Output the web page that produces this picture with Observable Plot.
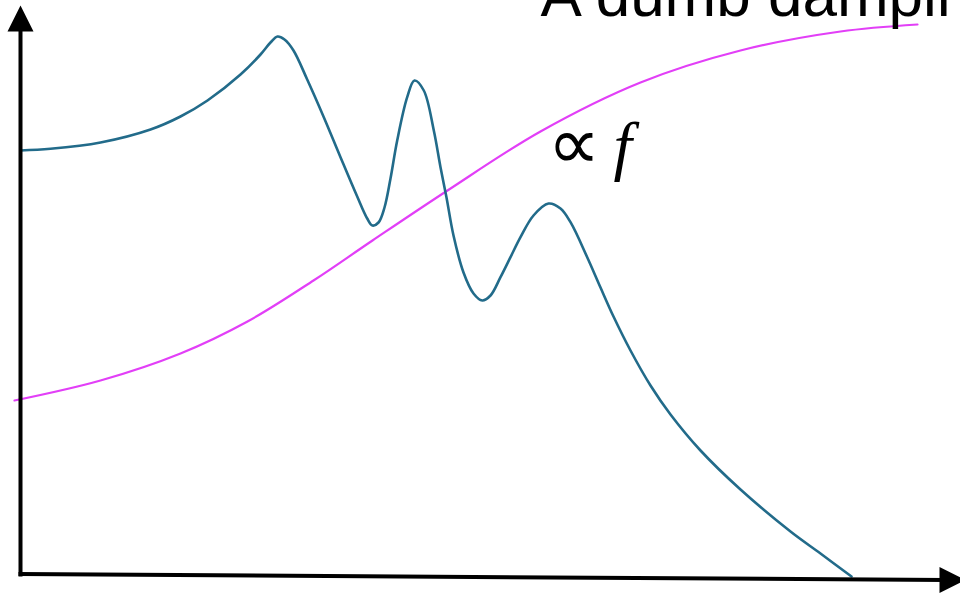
<!DOCTYPE html>
<html>
<head>
<meta charset="utf-8">
<script src="https://cdn.jsdelivr.net/npm/d3@7"></script>
<script src="https://cdn.jsdelivr.net/npm/@observablehq/plot@0.6"></script>
<style>
  html, body { margin: 0; padding: 0; background: #fff; }
  #chart svg { display: block; }
</style>
</head>
<body>
<div id="chart"></div>
<script>
// Response curve (blue): frequency (x) vs. amplitude (y), units above the axis corner
const responseX = [0, 30, 80, 130, 160, 187, 220, 240, 250, 257, 264, 273, 286.7, 303.3, 320, 336.7, 346.7, 352, 358, 364, 370, 376.7, 386.7, 394, 403.3, 413.3, 420, 426, 433, 443, 453, 461.7, 470, 480, 490, 500, 513, 528, 540, 550, 566.7, 580, 593, 610, 630, 650, 680, 720, 770, 800, 831];
const responseY = [424, 425.7, 432, 445, 458, 474, 500, 520, 532, 538, 535, 524, 495, 457.3, 417.3, 378, 356, 349, 352, 367, 396, 434, 477.3, 494, 484, 444, 407.3, 377, 339, 302, 281, 274, 279, 297.3, 317.3, 337.3, 359, 371, 366, 352.3, 317.3, 287, 258, 224, 189, 160, 124, 85, 43, 21, -2];

// Damping curve (magenta), roughly proportional to f
const dampingX = [-6, 80, 160, 227, 293, 352, 427, 520, 620, 720, 820, 897];
const dampingY = [174, 194, 221, 253, 294, 334, 384, 443, 492, 524, 543, 550];

// Axes (hand-drawn, with arrowheads)
const yAxisX = [0, 0];
const yAxisY = [-2, 549];
const xAxisX = [-2, 925];
const xAxisY = [0.5, -5.5];
const arrowX = [0, 932];
const arrowY = [556, -5.5];
const arrowRotate = [0, 90];

// Annotations
const labels = ["A dumb damping", "∝", "f"];
const labelX = [520, 527, 593];
const labelY = [559, 406, 407];

const response = responseX.map((x, i) => ({x, y: responseY[i]}));
const damping = dampingX.map((x, i) => ({x, y: dampingY[i]}));
const yAxis = yAxisX.map((x, i) => ({x, y: yAxisY[i]}));
const xAxis = xAxisX.map((x, i) => ({x, y: xAxisY[i]}));
const arrows = arrowX.map((x, i) => ({x, y: arrowY[i], rotate: arrowRotate[i]}));
const notes = labels.map((t, i) => ({t, x: labelX[i], y: labelY[i]}));

const arrowHead = {
  draw(context, size) {
    const r = Math.sqrt(size / Math.PI);
    context.moveTo(0, -r);
    context.lineTo(r, r);
    context.lineTo(-r, r);
    context.closePath();
  }
};

const chart = Plot.plot({
  width: 960,
  height: 594,
  margin: 0,
  x: {domain: [-20, 940], axis: null},
  y: {domain: [-20, 574], axis: null},
  style: {background: "#fff", overflow: "hidden"},
  marks: [
    Plot.line(damping, {x: "x", y: "y", stroke: "#e23ff7", strokeWidth: 2.2, curve: "catmull-rom"}),
    Plot.line(response, {x: "x", y: "y", stroke: "#226b8a", strokeWidth: 2.6, curve: "catmull-rom"}),
    Plot.line(yAxis, {x: "x", y: "y", stroke: "#000", strokeWidth: 4, strokeLinecap: "butt"}),
    Plot.line(xAxis, {x: "x", y: "y", stroke: "#000", strokeWidth: 4, strokeLinecap: "butt"}),
    Plot.dot(arrows, {x: "x", y: "y", rotate: "rotate", symbol: arrowHead, r: 13, fill: "#000", stroke: "none"}),
    Plot.text(notes.slice(0, 1), {x: "x", y: "y", text: "t", textAnchor: "start", lineAnchor: "bottom",
      fontSize: 62, fill: "#000", fontFamily: "Liberation Sans, Arial, Helvetica, sans-serif"}),
    Plot.text(notes.slice(1, 2), {x: "x", y: "y", text: "t", textAnchor: "start", lineAnchor: "bottom",
      fontSize: 74, fill: "#000", fontFamily: "DejaVu Sans, sans-serif"}),
    Plot.text(notes.slice(2, 3), {x: "x", y: "y", text: "t", textAnchor: "start", lineAnchor: "bottom",
      fontSize: 66, fill: "#000", fontStyle: "italic", fontFamily: "Liberation Serif, Times New Roman, serif"})
  ]
});
document.getElementById("chart").appendChild(chart);
</script>
</body>
</html>
